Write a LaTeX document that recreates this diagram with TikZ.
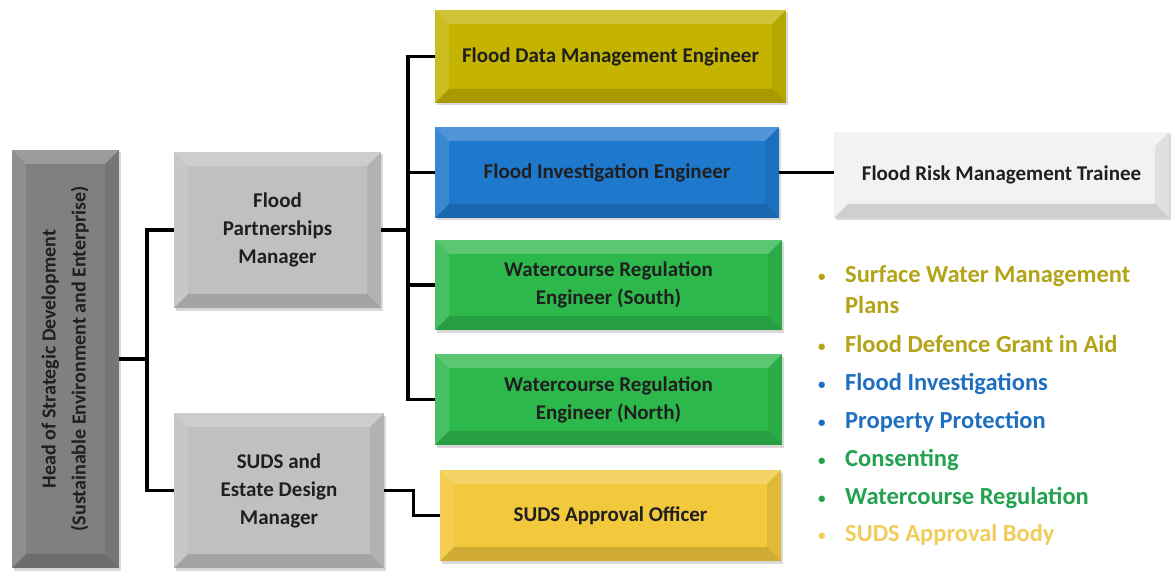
\documentclass[tikz,border=0pt]{standalone}
\usepackage{fontspec}
\setmainfont{Carlito}
\usetikzlibrary{shadows}
\definecolor{cHead}{HTML}{808080}
\definecolor{cGray}{HTML}{C0C0C0}
\definecolor{cOlive}{HTML}{C4B300}
\definecolor{cBlue}{HTML}{1E78CC}
\definecolor{cGreen}{HTML}{2DB84C}
\definecolor{cYellow}{HTML}{F2C83C}
\definecolor{cWhite}{HTML}{F2F2F2}
\definecolor{tOlive}{HTML}{B3A317}
\definecolor{tBlue}{HTML}{1F6FC0}
\definecolor{tGreen}{HTML}{22A24E}
\definecolor{tYellow}{HTML}{F0CC5C}
\def\bw{14pt}
\tikzset{
  box/.style={fill=#1, draw=none, align=center, inner sep=0pt,
    font=\bfseries\fontsize{21}{28}\selectfont, text=black!88,
    drop shadow={opacity=0.3, shadow xshift=2pt, shadow yshift=-2.5pt},
    path picture={
      \coordinate (NW) at (path picture bounding box.north west);
      \coordinate (NE) at (path picture bounding box.north east);
      \coordinate (SW) at (path picture bounding box.south west);
      \coordinate (SE) at (path picture bounding box.south east);
      \fill[white,opacity=0.22] (NW) -- (NE) -- ([shift={(-\bw,-\bw)}]NE) -- ([shift={(\bw,-\bw)}]NW) -- cycle;
      \fill[white,opacity=0.12] (NW) -- (SW) -- ([shift={(\bw,\bw)}]SW) -- ([shift={(\bw,-\bw)}]NW) -- cycle;
      \fill[black,opacity=0.07] (NE) -- (SE) -- ([shift={(-\bw,\bw)}]SE) -- ([shift={(-\bw,-\bw)}]NE) -- cycle;
      \fill[black,opacity=0.14] (SW) -- (SE) -- ([shift={(-\bw,\bw)}]SE) -- ([shift={(\bw,\bw)}]SW) -- cycle;
    }},
  conn/.style={line width=3.2pt, black},
  item/.style={anchor=base west, inner sep=0pt, align=left,
    font=\bfseries\fontsize{24.5}{31}\selectfont, text=#1},
}
\newcommand{\bul}{\makebox[27pt][l]{\raisebox{1pt}{\fontsize{15}{15}\selectfont\textbullet}}}
\begin{document}
\begin{tikzpicture}[x=1pt,y=-1pt]
\useasboundingbox (0,0) rectangle (1176,572);
% boxes
\node[box=cHead, minimum width=107pt, minimum height=418pt] (head) at (65.5,359)
  {\rotatebox{90}{\fontsize{20}{26}\selectfont\begin{tabular}{@{}c@{}}Head of Strategic Development\\[4pt](Sustainable Environment and Enterprise)\end{tabular}}};
\node[box=cGray, minimum width=207pt, minimum height=156pt] (fpm) at (277.5,230)
  {Flood\\Partnerships\\Manager};
\node[box=cGray, minimum width=210pt, minimum height=155pt] (sdm) at (279,490.5)
  {SUDS and\\Estate Design\\Manager};
\node[box=cOlive, minimum width=351pt, minimum height=93pt] (fdme) at (610.5,56.5)
  {Flood Data Management Engineer};
\node[box=cBlue, minimum width=344pt, minimum height=91pt] (fie) at (607,172.5)
  {Flood Investigation Engineer};
\node[box=cGreen, minimum width=347pt, minimum height=90pt] (wrs) at (608.5,285)
  {Watercourse Regulation\\Engineer (South)};
\node[box=cGreen, minimum width=347pt, minimum height=91pt] (wrn) at (608.5,399.5)
  {Watercourse Regulation\\Engineer (North)};
\node[box=cYellow, minimum width=341pt, minimum height=91pt] (sao) at (610.5,515.5)
  {SUDS Approval Officer};
\node[box=cWhite, minimum width=335pt, minimum height=86pt] (frmt) at (1001.5,175)
  {Flood Risk Management Trainee};
% connectors
\coordinate (b1) at (147,0);
\coordinate (b2) at (408,0);
\draw[conn] (head.east) -- (head.east -| b1);
\draw[conn] (fpm.west) -- (fpm.west -| b1) -- (sdm.west -| b1) -- (sdm.west);
\draw[conn] (fpm.east) -- (fpm.east -| b2);
\draw[conn] (fdme.west) -- (fdme.west -| b2) -- (wrn.west -| b2) -- (wrn.west);
\draw[conn] (fie.west -| b2) -- (fie.west);
\draw[conn] (wrs.west -| b2) -- (wrs.west);
\draw[conn] (sdm.east) -- ++(29,0) |- (sao.west);
\draw[conn] (fie.east) -- (fie.east -| frmt.west);
% list
\node[item=tOlive] (l1) at (818,313) {\bul Surface Water Management\\\hspace*{27pt}Plans};
\node[item=tOlive] (l2) at (818,352) {\bul Flood Defence Grant in Aid};
\node[item=tBlue] (l3) at (818,390) {\bul Flood Investigations};
\node[item=tBlue] (l4) at (818,428) {\bul Property Protection};
\node[item=tGreen] (l5) at (818,466) {\bul Consenting};
\node[item=tGreen] (l6) at (818,504) {\bul Watercourse Regulation};
\node[item=tYellow] (l7) at (818,541) {\bul SUDS Approval Body};
\end{tikzpicture}
\end{document}
